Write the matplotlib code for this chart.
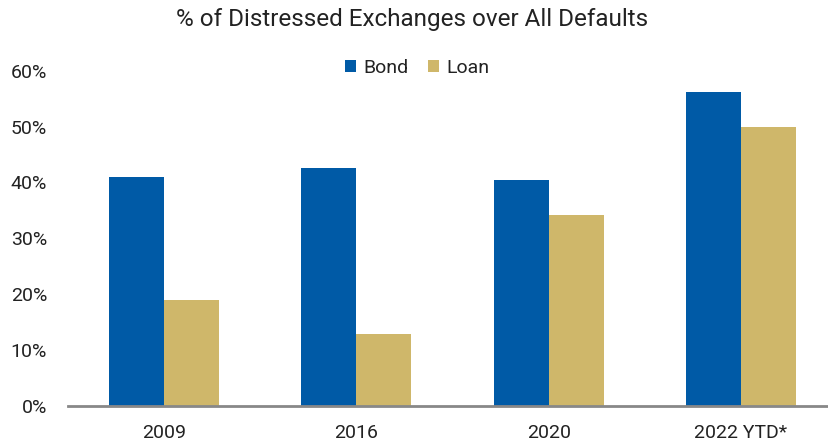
import numpy as np
import matplotlib.pyplot as plt

plt.rcParams['font.family'] = ['Roboto', 'DejaVu Sans']

# Share of distressed exchanges in all defaults, by year
years = ['2009', '2016', '2020', '2022 YTD*']
bond = [41.0, 42.6, 40.4, 56.2]
loan = [18.9, 12.9, 34.2, 49.9]

BLUE = '#005AA6'
TAN = '#CFB76A'

fig = plt.figure(figsize=(8.29, 4.45), dpi=100)
ax = fig.add_axes([0.082, 0.0876, 0.918, 0.7535])

x = np.arange(len(years))
w = 0.286
ax.bar(x - w / 2, bond, w, color=BLUE, label='Bond')
ax.bar(x + w / 2, loan, w, color=TAN, label='Loan')

ax.set_xlim(-0.5, 3.458)
ax.set_ylim(0, 60)
ax.set_yticks(range(0, 61, 10))
ax.set_yticklabels(['{}%'.format(v) for v in range(0, 61, 10)])
ax.set_xticks(x)
ax.set_xticklabels(years)

for s in ['top', 'right', 'left']:
    ax.spines[s].set_visible(False)
ax.spines['bottom'].set_color('#888888')
ax.spines['bottom'].set_linewidth(2)
ax.tick_params(axis='both', length=0, labelsize=14, colors='#222222')
ax.tick_params(axis='y', pad=15)
ax.tick_params(axis='x', pad=13)

fig.suptitle('% of Distressed Exchanges over All Defaults', x=0.4975, y=0.957,
             va='center', fontsize=17.5, color='#222222')
fig.legend(loc='center', bbox_to_anchor=(0.503, 0.847), ncol=2, frameon=False,
           fontsize=14, handlelength=0.6, handleheight=0.6, handletextpad=0.35,
           columnspacing=1.0, labelcolor='#222222')

fig.savefig('out.png', dpi=100)
